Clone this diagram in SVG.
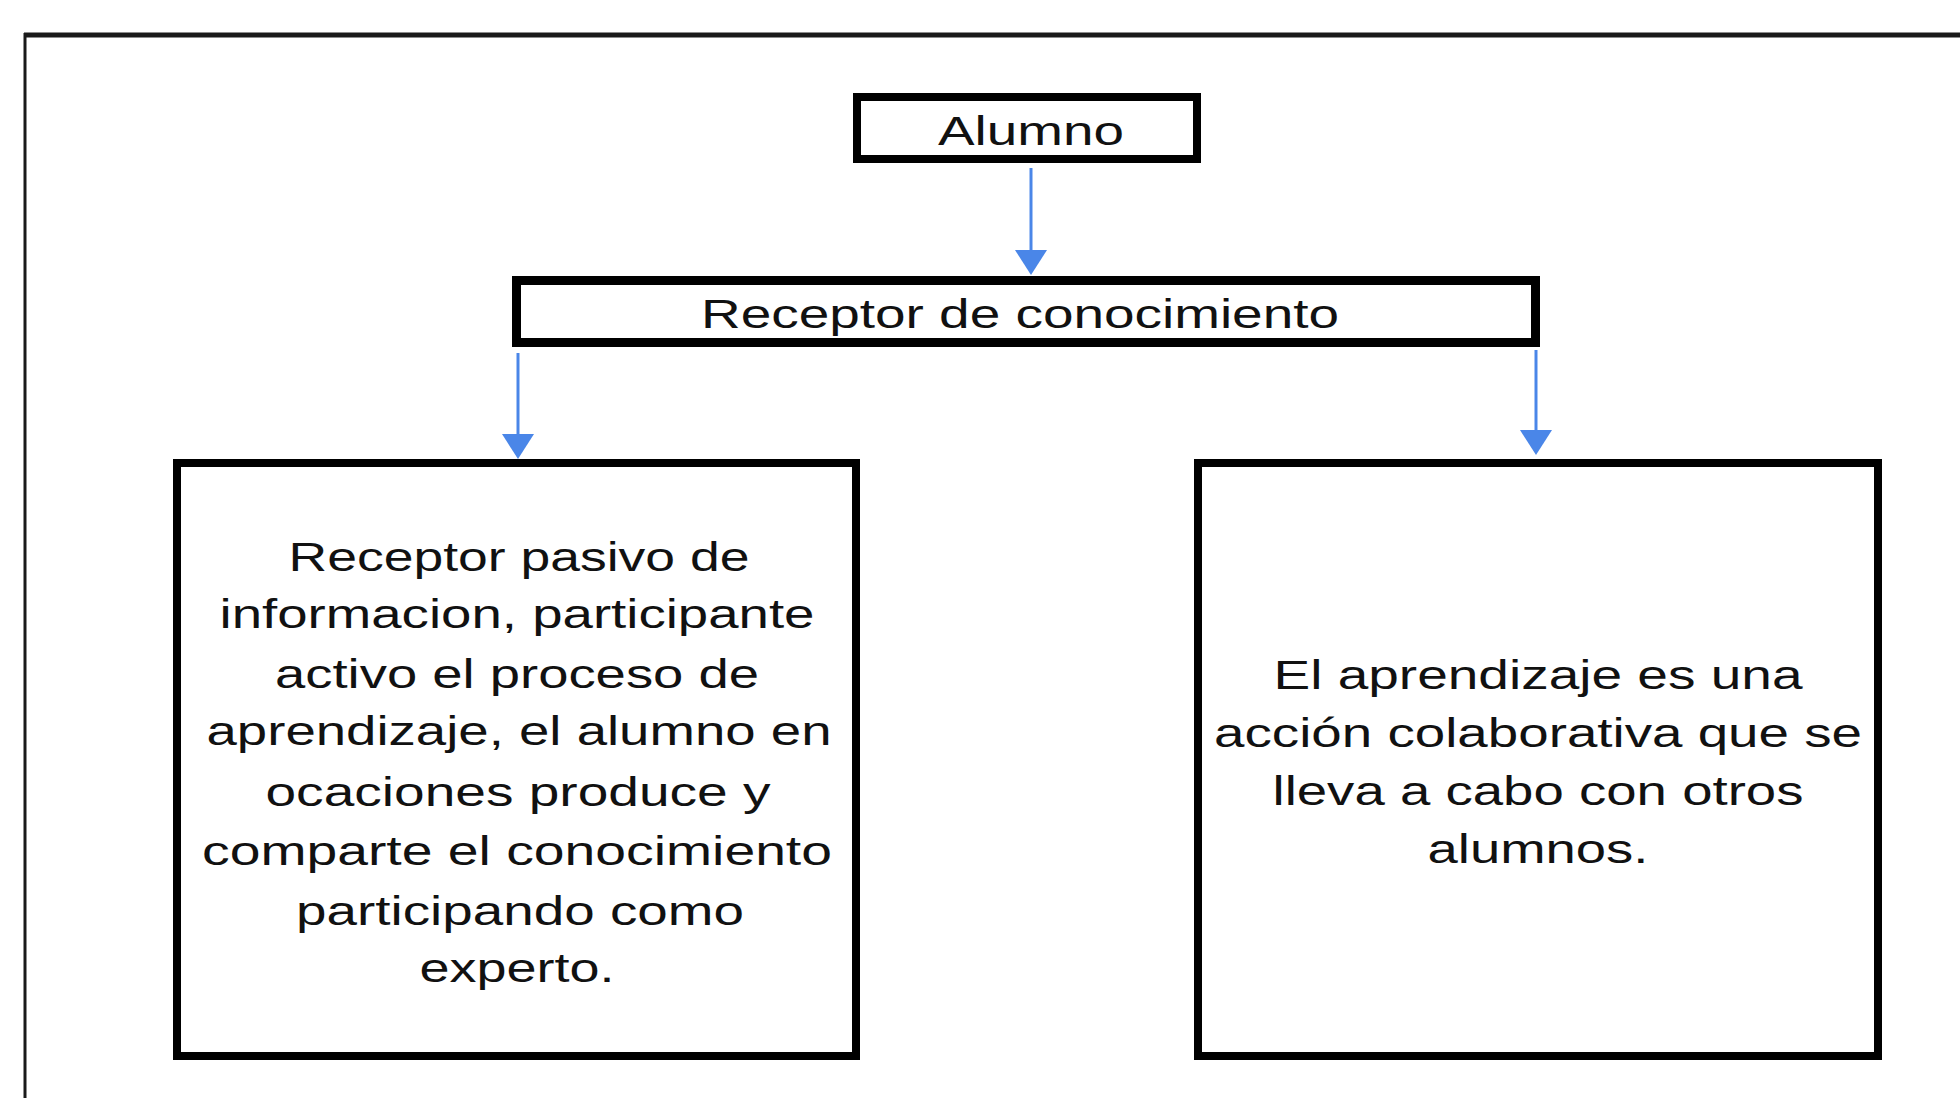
<svg xmlns="http://www.w3.org/2000/svg" width="1960" height="1098" viewBox="0 0 1960 1098">
  <style>
    .box { fill: #ffffff; stroke: #000000; }
    .t { font-family: "Liberation Sans", Arial, sans-serif; font-size: 41px; fill: #111111; text-anchor: middle; }
    .conn { stroke: #4a86e8; stroke-width: 3; fill: none; }
    .frame { stroke: #1a1a1a; fill: none; }
  </style>
  <defs>
    <marker id="arrow" viewBox="0 0 25 32" refX="0" refY="16" markerWidth="25" markerHeight="32" markerUnits="userSpaceOnUse" orient="auto">
      <path d="M0,0 L25,16 L0,32 Z" fill="#4a86e8"/>
    </marker>
  </defs>
  <rect width="1960" height="1098" fill="#ffffff"/>
  <g id="frame">
    <line class="frame" x1="24" y1="35" x2="1960" y2="35" stroke-width="5"/>
    <line class="frame" x1="25" y1="33" x2="25" y2="1098" stroke-width="3"/>
  </g>
  <g id="connectors">
    <line class="conn" x1="1031" y1="168" x2="1031" y2="250" marker-end="url(#arrow)"/>
    <line class="conn" x1="518" y1="353" x2="518" y2="434" marker-end="url(#arrow)"/>
    <line class="conn" x1="1536" y1="350" x2="1536" y2="430" marker-end="url(#arrow)"/>
  </g>
  <g id="node-alumno">
    <rect class="box" x="857" y="97" width="340" height="62" stroke-width="8"/>
    <text class="t" x="1031" y="145" textLength="186" lengthAdjust="spacingAndGlyphs">Alumno</text>
  </g>
  <g id="node-receptor">
    <rect class="box" x="516.5" y="280.5" width="1019" height="62" stroke-width="9"/>
    <text class="t" x="1020" y="328" textLength="638" lengthAdjust="spacingAndGlyphs">Receptor de conocimiento</text>
  </g>
  <g id="node-pasivo">
    <rect class="box" x="177" y="463" width="679" height="593" stroke-width="8"/>
    <text class="t" x="519" y="571" textLength="461" lengthAdjust="spacingAndGlyphs">Receptor pasivo de</text>
    <text class="t" x="517" y="628" textLength="595" lengthAdjust="spacingAndGlyphs">informacion, participante</text>
    <text class="t" x="517" y="688" textLength="484" lengthAdjust="spacingAndGlyphs">activo el proceso de</text>
    <text class="t" x="519" y="745" textLength="625" lengthAdjust="spacingAndGlyphs">aprendizaje, el alumno en</text>
    <text class="t" x="518" y="806" textLength="505" lengthAdjust="spacingAndGlyphs">ocaciones produce y</text>
    <text class="t" x="517" y="865" textLength="630" lengthAdjust="spacingAndGlyphs">comparte el conocimiento</text>
    <text class="t" x="520" y="925" textLength="448" lengthAdjust="spacingAndGlyphs">participando como</text>
    <text class="t" x="517" y="982" textLength="195" lengthAdjust="spacingAndGlyphs">experto.</text>
  </g>
  <g id="node-colaborativa">
    <rect class="box" x="1198" y="463" width="680" height="593" stroke-width="8"/>
    <text class="t" x="1538" y="689" textLength="529" lengthAdjust="spacingAndGlyphs">El aprendizaje es una</text>
    <text class="t" x="1538" y="747" textLength="648" lengthAdjust="spacingAndGlyphs">acción colaborativa que se</text>
    <text class="t" x="1538" y="805" textLength="531" lengthAdjust="spacingAndGlyphs">lleva a cabo con otros</text>
    <text class="t" x="1538" y="863" textLength="221" lengthAdjust="spacingAndGlyphs">alumnos.</text>
  </g>
</svg>
